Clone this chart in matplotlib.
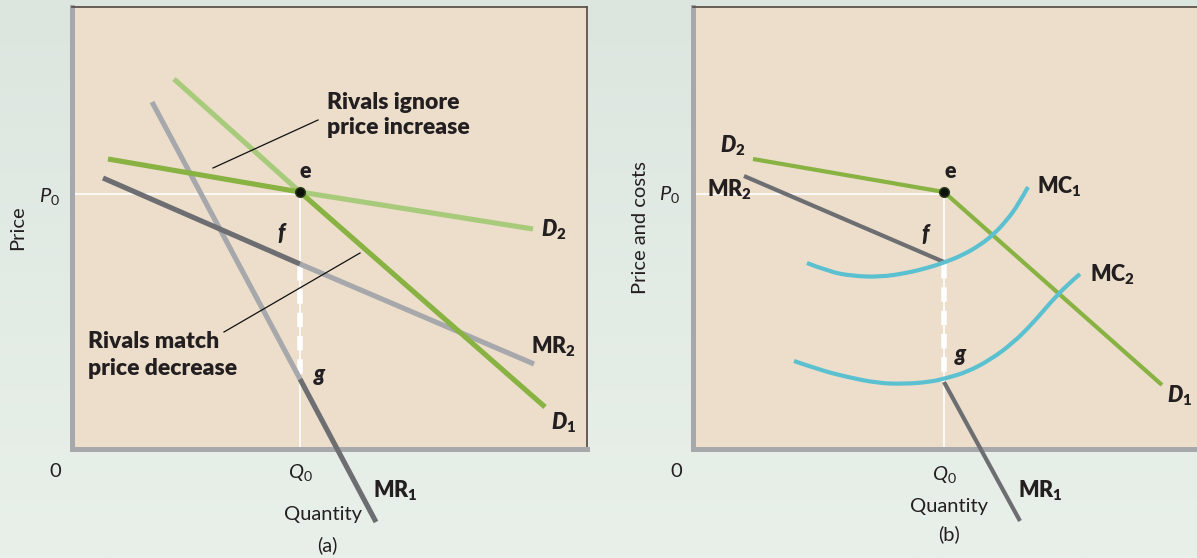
import numpy as np
import matplotlib
matplotlib.use('Agg')
import matplotlib.pyplot as plt
from matplotlib.colors import LinearSegmentedColormap
from matplotlib.path import Path
from matplotlib.patches import PathPatch

plt.rcParams['font.family'] = ['Lato', 'DejaVu Sans']
plt.rcParams['mathtext.fontset'] = 'custom'
plt.rcParams['mathtext.rm'] = 'Lato'
plt.rcParams['mathtext.it'] = 'Lato:italic'
plt.rcParams['mathtext.bf'] = 'Lato:heavy'
plt.rcParams['mathtext.bfit'] = 'Lato:italic:heavy'

# ---------------- data (quantity, price in axis units) ----------------
# Panel (a)
a_q0, a_p0 = 228, 257
a_f_price, a_g_price = 185, 70
a_d1_up_q, a_d1_up_p = [102, 228], [370, 257]
a_d1_lo_q, a_d1_lo_p = [228, 473], [257, 42]
a_d2_up_q, a_d2_up_p = [36, 228], [290, 257]
a_d2_lo_q, a_d2_lo_p = [228, 461], [257, 220]
a_mr2_l_q, a_mr2_l_p = [31, 228], [271, 185]
a_mr2_r_q, a_mr2_r_p = [228, 462], [185, 85]
a_mr1_u_q, a_mr1_u_p = [80, 228], [347, 70]
a_mr1_l_q, a_mr1_l_p = [228, 304], [70, -73]
a_lead1_q, a_lead1_p = [141, 246], [281, 329]
a_lead2_q, a_lead2_p = [152, 288], [117, 196]

# Panel (b)
b_q0, b_p0 = 251, 257
b_f_price, b_g_price = 187, 67
b_d2_q, b_d2_p = [60, 251], [290, 257]
b_d1_q, b_d1_p = [251, 469], [257, 64]
b_mr2_q, b_mr2_p = [51, 251], [273, 187]
b_mr1_q, b_mr1_p = [251, 327], [67, -72]
b_mc1_q = [114, 137, 160, 187, 214, 234, 250, 270, 287, 300, 314, 325, 335]
b_mc1_p = [186, 177, 173, 172, 176, 181, 186, 194, 204, 214, 229, 244, 262]
b_mc2_q = [101, 127, 154, 184, 210, 237, 254, 274, 297, 320, 340, 357, 374, 387]
b_mc2_p = [88, 79, 72, 66, 65, 67, 71, 77, 89, 106, 126, 146, 164, 175]

# ---------------- style ----------------
BEIGE = '#ecdecb'
DGREEN = '#88b241'
LGREEN = '#a8cb7b'
DGRAY = '#6d6e71'
LGRAY = '#a6a8ab'
CYAN = '#5bc1d0'
TXT = '#231f20'
SPINE = '#a7a8ab'
BORDER = '#5b534b'

W, H = 1197, 558
fig = plt.figure(figsize=(W / 100, H / 100), dpi=100)

# background gradient
bg = fig.add_axes([0, 0, 1, 1], zorder=-10)
cmap = LinearSegmentedColormap.from_list('bg', ['#dce6df', '#e9f0ea'])
bg.imshow(np.linspace(0, 1, 256).reshape(-1, 1), aspect='auto', cmap=cmap,
          extent=[0, 1, 0, 1], origin='upper')
bg.axis('off')

def make_axes(left_px):
    ax = fig.add_axes([left_px / W, (H - 449) / H, 515 / W, 442 / H])
    ax.set_xlim(0, 515)
    ax.set_ylim(0, 442)
    ax.set_facecolor(BEIGE)
    ax.set_xticks([])
    ax.set_yticks([])
    for s in ('left', 'bottom'):
        ax.spines[s].set_color(SPINE)
        ax.spines[s].set_linewidth(3.6)
        ax.spines[s].set_capstyle('projecting')
    for s in ('top', 'right'):
        ax.spines[s].set_color(BORDER)
        ax.spines[s].set_linewidth(1.3)
    return ax

def seg(ax, q, p, color, lw):
    ax.plot(q, p, color=color, lw=lw, solid_capstyle='butt', clip_on=False, zorder=3)

def smooth_curve(ax, q, p, color, lw):
    pts = list(zip(q, p))
    verts = [pts[0]]
    codes = [Path.MOVETO]
    for i in range(1, len(pts) - 1):
        if i < len(pts) - 2:
            end = ((pts[i][0] + pts[i + 1][0]) / 2, (pts[i][1] + pts[i + 1][1]) / 2)
        else:
            end = pts[i + 1]
        verts += [pts[i], end]
        codes += [Path.CURVE3, Path.CURVE3]
    patch = PathPatch(Path(verts, codes), fill=False, edgecolor=color, lw=lw,
                      capstyle='butt', zorder=3.5, transform=ax.transData)
    ax.add_patch(patch)

def guides(ax, q0, p0, fp, gp):
    ax.plot([0, q0], [p0 - 2, p0 - 2], color='white', lw=1.2, zorder=2)
    ax.plot([q0, q0], [p0 - 2, 0], color='white', lw=1.2, zorder=2)
    ax.plot([q0, q0], [fp - 2, gp], color='white', lw=4.0,
            linestyle=(0, (2.6, 1.6)), dash_capstyle='butt', zorder=2)

def txt(ax, x, y, s, size=15.5, weight='normal', style='normal', ha='left', va='baseline', **kw):
    ax.text(x, y, s, fontsize=size, fontweight=weight, fontstyle=style, color=TXT,
            ha=ha, va=va, clip_on=False, **kw)

BOLD = 15.5
NORM = 14.5
HW = 'heavy'

# ---------------- panel (a) ----------------
ax = make_axes(72)
guides(ax, a_q0, a_p0, a_f_price, a_g_price)
LW = 3.7
seg(ax, a_mr1_u_q, a_mr1_u_p, LGRAY, LW)
seg(ax, a_mr1_l_q, a_mr1_l_p, DGRAY, LW)
seg(ax, a_mr2_r_q, a_mr2_r_p, LGRAY, LW)
seg(ax, a_mr2_l_q, a_mr2_l_p, DGRAY, LW)
seg(ax, a_d1_up_q, a_d1_up_p, LGREEN, LW)
seg(ax, a_d2_lo_q, a_d2_lo_p, LGREEN, LW)
seg(ax, a_d2_up_q, a_d2_up_p, DGREEN, LW)
seg(ax, a_d1_lo_q, a_d1_lo_p, DGREEN, LW)
ax.plot(a_lead1_q, a_lead1_p, color='#111111', lw=0.9, zorder=4)
ax.plot(a_lead2_q, a_lead2_p, color='#111111', lw=0.9, zorder=4)
ax.plot([a_q0], [a_p0], 'o', ms=7, mfc='#0d120b', mec='#2e3d1e', mew=1, zorder=6)

txt(ax, 255, 340, 'Rivals ignore', size=16.5, weight=HW)
txt(ax, 255, 315, 'price increase', size=16.5, weight=HW)
txt(ax, 16, 101, 'Rivals match', size=16.5, weight=HW)
txt(ax, 16, 74, 'price decrease', size=16.5, weight=HW)
txt(ax, 233, 271, 'e', size=BOLD, weight=HW, ha='center')
txt(ax, 209, 209, 'f', size=BOLD, weight=HW, style='italic', ha='center')
txt(ax, 247, 68, 'g', size=BOLD, weight=HW, style='italic', ha='center')
txt(ax, 469, 212, r'$\mathbfit{D}_{\mathbf{2}}$', size=BOLD)
txt(ax, 459, 95, r'$\mathbf{MR}_{\mathbf{2}}$', size=BOLD)
txt(ax, 479, 19, r'$\mathbfit{D}_{\mathbf{1}}$', size=BOLD)
txt(ax, 301, -49, r'$\mathbf{MR}_{\mathbf{1}}$', size=BOLD)
txt(ax, -12, 247, r'$P_0$', size=NORM, ha='right')
txt(ax, -17, -28, '0', size=NORM, ha='center')
txt(ax, 228, -29, r'$Q_0$', size=NORM, ha='center')
txt(ax, 251, -71, 'Quantity', size=NORM, ha='center')
txt(ax, 255, -102, '(a)', size=NORM, ha='center')
txt(ax, -54, 221, 'Price', size=NORM, ha='center', va='center', rotation=90)

# ---------------- panel (b) ----------------
bx = make_axes(693)
guides(bx, b_q0, b_p0, b_f_price, b_g_price)
LWB = 3.0
seg(bx, b_mr2_q, b_mr2_p, DGRAY, LWB)
seg(bx, b_mr1_q, b_mr1_p, DGRAY, LWB)
seg(bx, b_d2_q, b_d2_p, DGREEN, LWB)
seg(bx, b_d1_q, b_d1_p, DGREEN, LWB)
smooth_curve(bx, b_mc1_q, b_mc1_p, CYAN, LWB)
smooth_curve(bx, b_mc2_q, b_mc2_p, CYAN, LWB)
bx.plot([b_q0], [b_p0], 'o', ms=7, mfc='#0d120b', mec='#2e3d1e', mew=1, zorder=6)

txt(bx, 27, 296, r'$\mathbfit{D}_{\mathbf{2}}$', size=BOLD)
txt(bx, 14, 252, r'$\mathbf{MR}_{\mathbf{2}}$', size=BOLD)
txt(bx, 257, 271, 'e', size=BOLD, weight=HW, ha='center')
txt(bx, 232, 208, 'f', size=BOLD, weight=HW, style='italic', ha='center')
txt(bx, 267, 88, 'g', size=BOLD, weight=HW, style='italic', ha='center')
txt(bx, 344, 255, r'$\mathbf{MC}_{\mathbf{1}}$', size=BOLD)
txt(bx, 397, 167, r'$\mathbf{MC}_{\mathbf{2}}$', size=BOLD)
txt(bx, 474, 46, r'$\mathbfit{D}_{\mathbf{1}}$', size=BOLD)
txt(bx, 325, -49, r'$\mathbf{MR}_{\mathbf{1}}$', size=BOLD)
txt(bx, -13, 249, r'$P_0$', size=NORM, ha='right')
txt(bx, -17, -28, '0', size=NORM, ha='center')
txt(bx, 251, -31, r'$Q_0$', size=NORM, ha='center')
txt(bx, 256, -63, 'Quantity', size=NORM, ha='center')
txt(bx, 256, -91, '(b)', size=NORM, ha='center')
txt(bx, -52, 221, 'Price and costs', size=NORM, ha='center', va='center', rotation=90)

fig.savefig('out.png', dpi=100)
